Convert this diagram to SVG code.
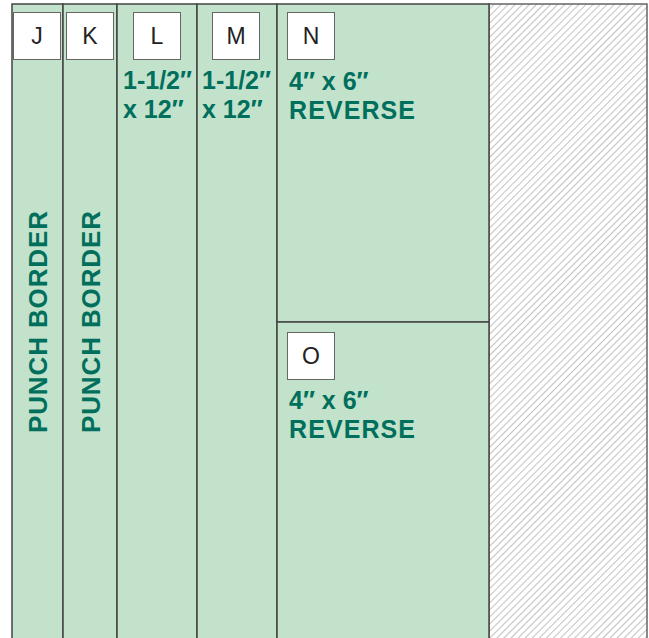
<svg xmlns="http://www.w3.org/2000/svg" width="649" height="638" viewBox="0 0 649 638">
<defs>
<pattern id="hatch" patternUnits="userSpaceOnUse" width="5" height="5" patternTransform="rotate(45)">
<line x1="2.5" y1="0" x2="2.5" y2="5" stroke="#c4c4c4" stroke-width="1.1"/>
</pattern>
<style>
.strip{fill:#c2e2cb;stroke:#444;stroke-width:1.5}
.tag{fill:#fff;stroke:#666;stroke-width:1}
.tagt{font-family:"Liberation Sans",Arial,sans-serif;font-size:23px;fill:#222;text-anchor:middle}
.g{font-family:"Liberation Sans",Arial,sans-serif;font-weight:bold;font-size:25px;fill:#006f5c}
.pb{font-family:"Liberation Sans",Arial,sans-serif;font-weight:bold;font-size:26px;fill:#006f5c}
</style>
</defs>
<rect x="0" y="0" width="649" height="638" fill="#fff"/>
<rect x="489" y="4" width="158" height="640" fill="url(#hatch)" stroke="#666" stroke-width="1.5"/>
<g id="J">
<rect class="strip" x="12" y="4" width="51" height="640"/>
<rect class="tag" x="13.5" y="12.5" width="47" height="47"/>
<text class="tagt" x="37" y="44">J</text>
<text class="pb" transform="translate(47,433) rotate(-90)" textLength="222">PUNCH BORDER</text>
</g>
<g id="K">
<rect class="strip" x="63" y="4" width="54" height="640"/>
<rect class="tag" x="66.5" y="12.5" width="47" height="47"/>
<text class="tagt" x="90" y="44">K</text>
<text class="pb" transform="translate(100,433) rotate(-90)" textLength="222">PUNCH BORDER</text>
</g>
<g id="L">
<rect class="strip" x="117" y="4" width="80" height="640"/>
<rect class="tag" x="133.5" y="12.5" width="47" height="47"/>
<text class="tagt" x="157" y="44">L</text>
<text class="g" x="123" y="89">1-1/2″</text>
<text class="g" x="123" y="118">x 12″</text>
</g>
<g id="M">
<rect class="strip" x="197" y="4" width="80" height="640"/>
<rect class="tag" x="212.5" y="12.5" width="47" height="47"/>
<text class="tagt" x="236" y="44">M</text>
<text class="g" x="202" y="89">1-1/2″</text>
<text class="g" x="202" y="118">x 12″</text>
</g>
<g id="N">
<rect class="strip" x="277" y="4" width="212" height="318"/>
<rect class="tag" x="287.5" y="12.5" width="47" height="47"/>
<text class="tagt" x="311" y="44">N</text>
<text class="g" x="289" y="90">4″ x 6″</text>
<text class="g" x="289" y="119" textLength="126">REVERSE</text>
</g>
<g id="O">
<rect class="strip" x="277" y="322" width="212" height="322"/>
<rect class="tag" x="287.5" y="332.5" width="47" height="47"/>
<text class="tagt" x="311" y="364">O</text>
<text class="g" x="289" y="409">4″ x 6″</text>
<text class="g" x="289" y="438" textLength="126">REVERSE</text>
</g>
<g id="connectors"></g>
</svg>
